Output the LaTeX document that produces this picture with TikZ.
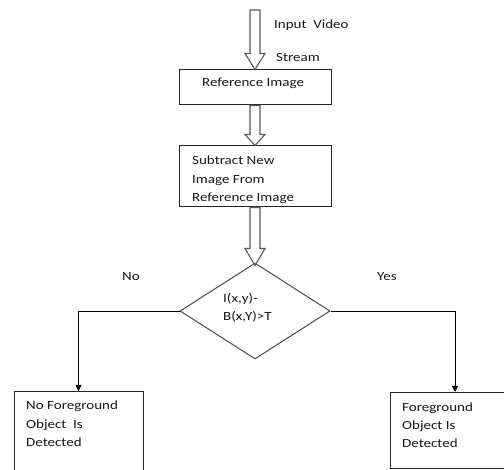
\documentclass[tikz,border=0pt]{standalone}
\usepackage{fontspec}
\setmainfont{Carlito}[FakeStretch=1.2]
\usetikzlibrary{shapes.geometric,arrows.meta,calc}
\newcommand\blockarrow[3]{%
  \draw[blk] let \p1=(#1), \p2=(#2) in
    (\x2-5pt,\y1) -- (\x2-5pt,\y2+#3) -- (\x2-10pt,\y2+#3) -- (\x2,\y2)
    -- (\x2+10pt,\y2+#3) -- (\x2+5pt,\y2+#3) -- (\x2+5pt,\y1) -- cycle;}
\begin{document}
\begin{tikzpicture}[x=1pt,y=-1pt,
  box/.style={draw=black!85, line width=1pt, inner sep=0pt},
  dia/.style={draw=black!70, line width=1pt, diamond, inner sep=0pt,
              minimum width=150pt, minimum height=96pt},
  blk/.style={draw=black!65, line width=1.1pt, line join=miter},
  conn/.style={draw=black, line width=0.9pt, -{Triangle[width=6pt,length=6pt]}},
  txt/.style={anchor=base west, inner sep=0pt, font=\fontsize{12.5pt}{15pt}\selectfont, text=black!90}]
\clip (0,0) rectangle (504,470);
\fill[white] (0,0) rectangle (504,470);
% boxes
\node[box, minimum width=152pt, minimum height=35pt] (ref) at (255,87.5) {};
\node[box, minimum width=152pt, minimum height=61pt] (sub) at (255,176.5) {};
\node[dia] (dec) at (255,311) {};
\node[box, minimum width=129pt, minimum height=95pt, anchor=north] (nobox) at (78.5,391) {};
\node[box, minimum width=130pt, minimum height=76pt, anchor=north] (yesbox) at (455,392) {};
% block arrows
\coordinate (in) at (256,10);
\blockarrow{in}{ref.north}{16pt}
\blockarrow{ref.south}{sub.north}{11pt}
\blockarrow{sub.south}{[yshift=-3pt]dec.north}{17pt}
% connectors
\draw[conn] (dec.west) -| (nobox.north);
\draw[conn] (dec.east) -| (yesbox.north);
% texts
\node[txt] (tin) at (274,29) {Input~~Video};
\node[txt] (tstream) at (276,62) {Stream};
\node[txt] (tref) at (202,87) {Reference Image};
\begin{scope}
\clip (sub.south west) rectangle (sub.north east);
\node[txt] (ts1) at (192,165) {Subtract New};
\node[txt] (ts2) at (192,183.5) {Image From};
\node[txt] (ts3) at (192,202) {Reference Image};
\end{scope}
\node[txt] (td1) at (223,303) {I(x,y)-};
\node[txt] (td2) at (223,321) {B(x,Y)>T};
\node[txt] (tno) at (122,281) {No};
\node[txt] (tyes) at (377,281) {Yes};
\node[txt] (tn1) at (26,410) {No~Foreground};
\node[txt] (tn2) at (26,428.5) {Object~~Is};
\node[txt] (tn3) at (26,447) {Detected};
\node[txt] (ty1) at (402,412) {Foreground};
\node[txt] (ty2) at (402,430) {Object Is};
\node[txt] (ty3) at (402,448) {Detected};
\end{tikzpicture}
\end{document}
